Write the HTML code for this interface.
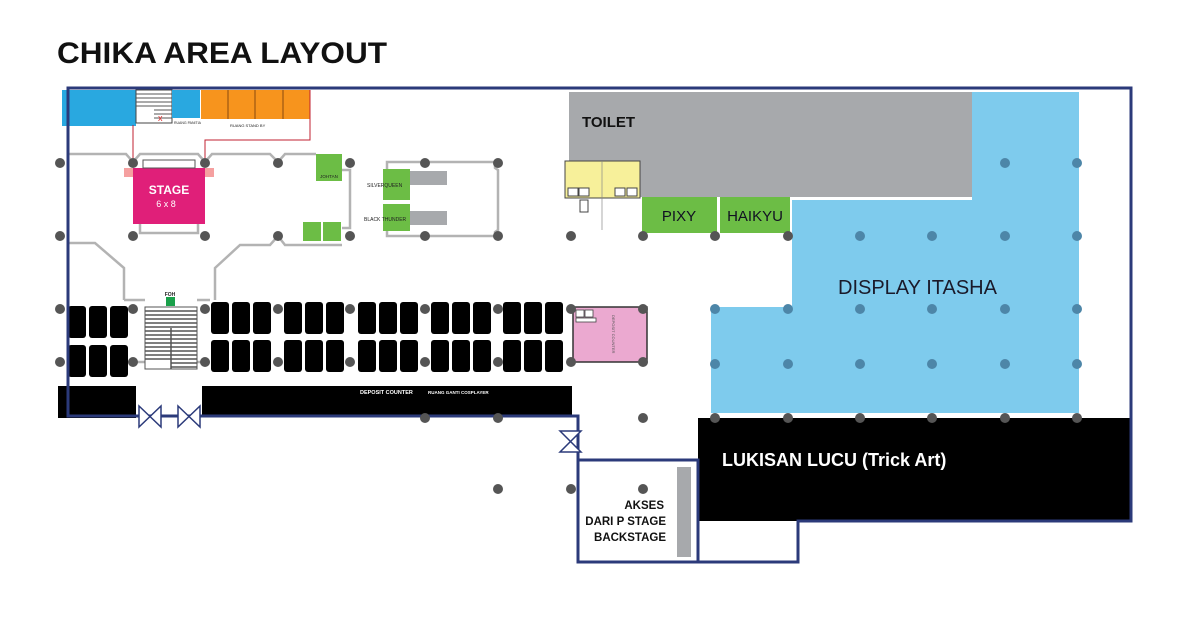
<!DOCTYPE html>
<html><head><meta charset="utf-8"><style>
html,body{margin:0;padding:0;background:#fff;}
svg{display:block;font-family:"Liberation Sans",sans-serif;}
</style></head><body>
<svg width="1187" height="618" viewBox="0 0 1187 618" xmlns="http://www.w3.org/2000/svg">
<text x="57" y="63" font-size="30" font-weight="bold" fill="#111" textLength="330" lengthAdjust="spacingAndGlyphs">CHIKA AREA LAYOUT</text>

<!-- toilet & blue areas -->
<rect x="569" y="92" width="403" height="105" fill="#a7a9ac"/>
<text x="582" y="127" font-size="15" font-weight="bold" fill="#111">TOILET</text>
<path d="M972 92 H1079 V413 H711 V307 H792 V200 H972 Z" fill="#7ecbed"/>
<text x="838" y="294" font-size="20" fill="#1a1a2a">DISPLAY ITASHA</text>
<rect x="642" y="197" width="75" height="36" fill="#6cbd45"/>
<rect x="720" y="197" width="70" height="36" fill="#6cbd45"/>
<text x="679" y="221" font-size="15" text-anchor="middle" fill="#112">PIXY</text>
<text x="755" y="221" font-size="15" text-anchor="middle" fill="#112">HAIKYU</text>
<!-- yellow -->
<rect x="565" y="161" width="75" height="37" fill="#f7f09a" stroke="#444" stroke-width="1"/>
<rect x="568" y="188" width="10" height="8" fill="#fff" stroke="#444" stroke-width="1"/>
<rect x="579" y="188" width="10" height="8" fill="#fff" stroke="#444" stroke-width="1"/>
<rect x="615" y="188" width="10" height="8" fill="#fff" stroke="#444" stroke-width="1"/>
<rect x="627" y="188" width="10" height="8" fill="#fff" stroke="#444" stroke-width="1"/>
<rect x="580" y="200" width="8" height="12" fill="#fff" stroke="#444" stroke-width="1"/>
<line x1="602" y1="161" x2="602" y2="230" stroke="#888" stroke-width="0.7"/>

<!-- top-left area -->
<rect x="62" y="90" width="74" height="36" fill="#29a8e0"/>
<rect x="136" y="90" width="36" height="33" fill="#fff" stroke="#444" stroke-width="1"/>
<g stroke="#555" stroke-width="1">
<line x1="136" y1="94" x2="172" y2="94"/><line x1="136" y1="98" x2="172" y2="98"/><line x1="136" y1="102" x2="172" y2="102"/><line x1="136" y1="106" x2="172" y2="106"/><line x1="154" y1="110" x2="172" y2="110"/><line x1="154" y1="114" x2="172" y2="114"/><line x1="154" y1="118" x2="172" y2="118"/></g>
<text x="158" y="121" font-size="9" fill="#e03030">x</text>
<rect x="172" y="90" width="28" height="28" fill="#29a8e0"/>
<rect x="201" y="90" width="109" height="29" fill="#f7941d"/>
<g stroke="#8a4a10" stroke-width="1"><line x1="228" y1="90" x2="228" y2="119"/><line x1="255" y1="90" x2="255" y2="119"/><line x1="283" y1="90" x2="283" y2="119"/></g>
<text x="174" y="124" font-size="3.5" fill="#222">RUANG PANITIA</text>
<text x="230" y="127" font-size="4" fill="#222">RUANG STAND BY</text>
<g fill="none" stroke="#c02030" stroke-width="1"><path d="M133 125 V160"/><path d="M310 90 V140 H205 V160"/></g>

<!-- grey paths -->
<g fill="none" stroke="#b3b3b3" stroke-width="2.5">
<path d="M68 154 H126 L133 162 L140 154 H198 L205 162 L212 154 H270 L278 162 L285 154 H316"/>
<path d="M342 170 H350 V228 H342"/>
<path d="M68 243 H95 L124 268 V300"/>
<path d="M278 236 L270 245 H240 L215 268 V300"/>
<path d="M278 236 L285 245 H342"/>
<path d="M140 224 V233 H198 V224"/>
<path d="M387 170 V162 H495 V168 L498 170 V230 L495 232 V236 H387 V230"/>
<path d="M124 300 H145 M197 300 H210 M128 362 H145 M197 362 H210"/>
</g>

<!-- stage -->
<rect x="133" y="168" width="72" height="56" fill="#e01f79"/>
<rect x="124" y="168" width="9" height="9" fill="#f5a0a0"/><rect x="205" y="168" width="9" height="9" fill="#f5a0a0"/>
<rect x="143" y="160" width="52" height="8" fill="#fff" stroke="#555" stroke-width="1"/>
<text x="169" y="194" font-size="12" font-weight="bold" fill="#fff" text-anchor="middle">STAGE</text>
<text x="166" y="207" font-size="9" fill="#fff" text-anchor="middle">6 x 8</text>

<!-- green boxes -->
<rect x="316" y="154" width="26" height="27" fill="#6cbd45"/>
<text x="329" y="178" font-size="4.5" fill="#222" text-anchor="middle">JOHTAN</text>
<rect x="303" y="222" width="18" height="19" fill="#6cbd45"/>
<rect x="323" y="222" width="18" height="19" fill="#6cbd45"/>
<rect x="383" y="169" width="27" height="31" fill="#6cbd45"/>
<rect x="410" y="171" width="37" height="14" fill="#a7a9ac"/>
<rect x="383" y="204" width="27" height="27" fill="#6cbd45"/>
<rect x="410" y="211" width="37" height="14" fill="#a7a9ac"/>
<text x="367" y="187" font-size="5" fill="#222">SILVERQUEEN</text>
<text x="364" y="221" font-size="5" fill="#222">BLACK THUNDER</text>

<!-- FOH -->
<rect x="166" y="297" width="9" height="9" fill="#1aa04a"/>
<text x="170" y="296" font-size="5" font-weight="bold" fill="#222" text-anchor="middle">FOH</text>
<rect x="145" y="307" width="52" height="62" fill="#fff" stroke="#555" stroke-width="1"/>
<g stroke="#555" stroke-width="1.5">
<line x1="145" y1="311" x2="197" y2="311"/><line x1="145" y1="315" x2="197" y2="315"/><line x1="145" y1="319" x2="197" y2="319"/><line x1="145" y1="323" x2="197" y2="323"/><line x1="145" y1="327" x2="197" y2="327"/><line x1="145" y1="331" x2="197" y2="331"/><line x1="145" y1="335" x2="197" y2="335"/><line x1="145" y1="339" x2="197" y2="339"/><line x1="145" y1="343" x2="197" y2="343"/><line x1="145" y1="347" x2="197" y2="347"/><line x1="145" y1="351" x2="197" y2="351"/><line x1="145" y1="355" x2="197" y2="355"/><line x1="145" y1="359" x2="197" y2="359"/><line x1="171" y1="363" x2="197" y2="363"/><line x1="171" y1="367" x2="197" y2="367"/><line x1="171" y1="328" x2="171" y2="369"/></g>

<!-- booths -->
<g fill="#000">
<rect x="68" y="306" width="18" height="32" rx="3"/><rect x="89" y="306" width="18" height="32" rx="3"/><rect x="110" y="306" width="18" height="32" rx="3"/>
<rect x="68" y="345" width="18" height="32" rx="3"/><rect x="89" y="345" width="18" height="32" rx="3"/><rect x="110" y="345" width="18" height="32" rx="3"/>
<rect x="211" y="302" width="18" height="32" rx="3"/><rect x="232" y="302" width="18" height="32" rx="3"/><rect x="253" y="302" width="18" height="32" rx="3"/>
<rect x="284" y="302" width="18" height="32" rx="3"/><rect x="305" y="302" width="18" height="32" rx="3"/><rect x="326" y="302" width="18" height="32" rx="3"/>
<rect x="358" y="302" width="18" height="32" rx="3"/><rect x="379" y="302" width="18" height="32" rx="3"/><rect x="400" y="302" width="18" height="32" rx="3"/>
<rect x="431" y="302" width="18" height="32" rx="3"/><rect x="452" y="302" width="18" height="32" rx="3"/><rect x="473" y="302" width="18" height="32" rx="3"/>
<rect x="503" y="302" width="18" height="32" rx="3"/><rect x="524" y="302" width="18" height="32" rx="3"/><rect x="545" y="302" width="18" height="32" rx="3"/>
<rect x="211" y="340" width="18" height="32" rx="3"/><rect x="232" y="340" width="18" height="32" rx="3"/><rect x="253" y="340" width="18" height="32" rx="3"/>
<rect x="284" y="340" width="18" height="32" rx="3"/><rect x="305" y="340" width="18" height="32" rx="3"/><rect x="326" y="340" width="18" height="32" rx="3"/>
<rect x="358" y="340" width="18" height="32" rx="3"/><rect x="379" y="340" width="18" height="32" rx="3"/><rect x="400" y="340" width="18" height="32" rx="3"/>
<rect x="431" y="340" width="18" height="32" rx="3"/><rect x="452" y="340" width="18" height="32" rx="3"/><rect x="473" y="340" width="18" height="32" rx="3"/>
<rect x="503" y="340" width="18" height="32" rx="3"/><rect x="524" y="340" width="18" height="32" rx="3"/><rect x="545" y="340" width="18" height="32" rx="3"/>
<rect x="58" y="386" width="78" height="32"/>
<rect x="202" y="386" width="370" height="30"/>
<rect x="698" y="418" width="433" height="103"/>
</g>
<text x="360" y="394" font-size="5.5" font-weight="bold" fill="#fff">DEPOSIT COUNTER</text>
<text x="428" y="394" font-size="4.5" font-weight="bold" fill="#fff">RUANG GANTI COSPLAYER</text>
<text x="722" y="466" font-size="18" font-weight="bold" fill="#fff">LUKISAN LUCU (Trick Art)</text>

<!-- deposit pink -->
<rect x="573" y="307" width="74" height="55" fill="#eba9d0" stroke="#333" stroke-width="1.5"/>
<rect x="576" y="310" width="8" height="7" fill="#fff" stroke="#444" stroke-width="0.8"/><rect x="585" y="310" width="8" height="7" fill="#fff" stroke="#444" stroke-width="0.8"/>
<rect x="576" y="318" width="20" height="4" fill="#fff" stroke="#444" stroke-width="0.8"/>
<text x="0" y="0" font-size="4" fill="#555" transform="translate(612,315) rotate(90)">DEPOSIT COUNTER</text>

<!-- outline -->
<g fill="none" stroke="#2b3a7a" stroke-width="3">
<path d="M68 88 H1131 V521 H798 V562 H578 V416 H68 Z"/>
<path d="M578 460 H698 V562"/>
</g>
<rect x="677" y="467" width="14" height="90" fill="#a7a9ac"/>
<g font-size="11.5" font-weight="bold" fill="#111" text-anchor="end">
<text x="664" y="509">AKSES</text><text x="666" y="525">DARI P STAGE</text><text x="666" y="541">BACKSTAGE</text></g>

<!-- doors -->
<g fill="#fff" stroke="#2b3a7a" stroke-width="1.5">
<path d="M139 406 L161 427 V406 L139 427 Z"/>
<path d="M178 406 L200 427 V406 L178 427 Z"/>
<path d="M560 431 L581 452 H560 L581 431 Z"/>
</g>

<!-- pillars -->
<g fill="#555">
<circle cx="60" cy="163" r="5"/><circle cx="133" cy="163" r="5"/><circle cx="205" cy="163" r="5"/><circle cx="278" cy="163" r="5"/><circle cx="350" cy="163" r="5"/><circle cx="425" cy="163" r="5"/><circle cx="498" cy="163" r="5"/>
<circle cx="60" cy="236" r="5"/><circle cx="133" cy="236" r="5"/><circle cx="205" cy="236" r="5"/><circle cx="278" cy="236" r="5"/><circle cx="350" cy="236" r="5"/><circle cx="425" cy="236" r="5"/><circle cx="498" cy="236" r="5"/><circle cx="571" cy="236" r="5"/><circle cx="643" cy="236" r="5"/><circle cx="715" cy="236" r="5"/><circle cx="788" cy="236" r="5"/>
<circle cx="60" cy="309" r="5"/><circle cx="133" cy="309" r="5"/><circle cx="205" cy="309" r="5"/><circle cx="278" cy="309" r="5"/><circle cx="350" cy="309" r="5"/><circle cx="425" cy="309" r="5"/><circle cx="498" cy="309" r="5"/><circle cx="571" cy="309" r="5"/><circle cx="643" cy="309" r="5"/>
<circle cx="60" cy="362" r="5"/><circle cx="133" cy="362" r="5"/><circle cx="205" cy="362" r="5"/><circle cx="278" cy="362" r="5"/><circle cx="350" cy="362" r="5"/><circle cx="425" cy="362" r="5"/><circle cx="498" cy="362" r="5"/><circle cx="571" cy="362" r="5"/><circle cx="643" cy="362" r="5"/>
<circle cx="425" cy="418" r="5"/><circle cx="498" cy="418" r="5"/><circle cx="643" cy="418" r="5"/><circle cx="715" cy="418" r="5"/><circle cx="788" cy="418" r="5"/><circle cx="860" cy="418" r="5"/><circle cx="932" cy="418" r="5"/><circle cx="1005" cy="418" r="5"/><circle cx="1077" cy="418" r="5"/>
<circle cx="498" cy="489" r="5"/><circle cx="571" cy="489" r="5"/><circle cx="643" cy="489" r="5"/>
</g>
<g fill="#4d86a8">
<circle cx="1005" cy="163" r="5"/><circle cx="1077" cy="163" r="5"/>
<circle cx="860" cy="236" r="5"/><circle cx="932" cy="236" r="5"/><circle cx="1005" cy="236" r="5"/><circle cx="1077" cy="236" r="5"/>
<circle cx="715" cy="309" r="5"/><circle cx="788" cy="309" r="5"/><circle cx="860" cy="309" r="5"/><circle cx="932" cy="309" r="5"/><circle cx="1005" cy="309" r="5"/><circle cx="1077" cy="309" r="5"/>
<circle cx="715" cy="364" r="5"/><circle cx="788" cy="364" r="5"/><circle cx="860" cy="364" r="5"/><circle cx="932" cy="364" r="5"/><circle cx="1005" cy="364" r="5"/><circle cx="1077" cy="364" r="5"/>
</g>
</svg>
</body></html>
